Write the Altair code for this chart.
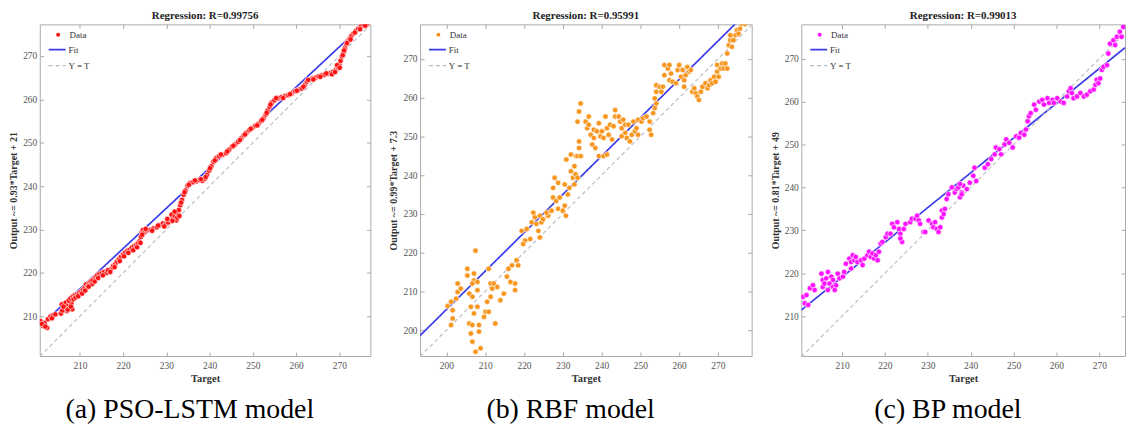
import altair as alt
import pandas as pd

FONT = "Liberation Serif"

# ---------------- Panel (a) PSO-LSTM ----------------
a_target = [200.9, 201.4, 201.8, 202.4, 202.6, 203.2, 203.8, 204.3, 205.6, 205.8, 206.4, 206.7, 207.0, 207.3,
            207.6, 208.0, 208.2, 207.4, 207.8, 208.3, 208.8, 209.3, 209.8, 210.3, 210.7, 211.1, 211.4, 211.8,
            212.2, 212.5, 212.8, 213.2, 213.6, 214.0, 214.5, 215.0, 215.6, 216.2, 216.8, 217.3, 217.7, 218.2,
            218.6, 219.0, 219.5, 220.0, 220.5, 221.0, 221.5, 222.0, 222.5, 223.0, 223.4, 223.8, 224.1, 224.3,
            224.6, 225.0, 225.5, 226.3, 227.0, 227.8, 228.5, 229.2, 229.8, 230.4, 230.9, 231.2, 231.6, 232.0,
            232.3, 232.7, 232.9, 233.2, 233.6, 234.0, 234.4, 234.9, 235.5, 236.2, 237.0, 237.6, 238.3, 238.9,
            239.4, 239.9, 240.4, 240.9, 241.5, 242.2, 243.0, 243.8, 244.5, 245.2, 245.9, 246.6, 247.3, 247.9,
            248.5, 249.2, 249.9, 250.6, 251.3, 251.9, 252.5, 253.0, 253.4, 253.9, 254.4, 255.0, 255.8, 256.6,
            257.4, 258.2, 259.0, 259.8, 260.6, 261.3, 262.0, 262.5, 263.1, 263.8, 264.5, 265.2, 265.9, 266.6,
            267.3, 268.0, 268.6, 269.2, 269.7, 270.0, 270.3, 270.6, 271.0, 271.3, 271.6, 272.0, 272.4, 272.8,
            273.3, 273.8, 274.4, 275.0, 275.7, 276.4,
            201.2, 202.0, 203.5, 205.9, 206.2, 207.2, 207.9, 208.5, 209.0, 209.6, 210.5, 211.2, 212.0, 212.9,
            213.4, 214.2, 215.3, 216.5, 217.0, 218.0, 219.2, 220.2, 221.2, 222.3, 223.2, 224.0, 224.4, 225.2,
            226.7, 228.1, 229.5, 230.2, 231.4, 231.9, 232.5, 233.0, 233.4, 234.2, 235.2, 236.6, 238.0, 239.1,
            240.1, 241.2, 242.6, 244.1, 245.5, 247.0, 248.2, 249.5, 251.0, 252.2, 253.2, 254.1, 255.4, 257.0,
            258.6, 260.2, 261.7, 262.8, 264.0, 265.6, 267.0, 268.3, 269.0, 269.5, 270.1, 270.8, 271.1, 271.8,
            272.6, 273.6, 274.8, 276.0]
a_output = [208.8, 207.8, 208.4, 207.3, 209.3, 209.9, 210.2, 210.4, 210.6, 212.7, 211.5, 213.1, 211.2, 212.4,
            211.8, 212.9, 211.6, 213.6, 214.1, 214.5, 214.8, 215.0, 215.3, 215.7, 216.1, 216.5, 217.3, 216.9,
            217.6, 218.0, 217.4, 218.5, 219.0, 219.4, 219.8, 219.9, 220.2, 220.0, 220.4, 220.9, 221.6, 222.0,
            222.6, 223.1, 223.7, 224.2, 224.7, 225.1, 225.3, 225.8, 226.1, 226.4, 226.8, 227.3, 228.3, 229.3,
            229.9, 229.4, 229.8, 229.9, 230.2, 230.5, 231.0, 231.4, 231.2, 231.6, 232.3, 233.4, 232.5, 233.0,
            232.1, 233.5, 234.5, 235.6, 236.8, 238.0, 239.0, 240.1, 240.7, 240.9, 241.1, 241.4, 241.2, 241.7,
            242.6, 243.6, 244.6, 245.6, 246.4, 246.9, 247.2, 247.6, 248.4, 249.1, 249.6, 250.2, 251.0, 251.7,
            252.3, 252.9, 253.4, 253.9, 254.4, 255.0, 255.7, 256.5, 257.4, 258.3, 259.3, 259.8, 260.2, 260.5,
            260.7, 261.0, 261.4, 261.9, 262.2, 262.5, 263.3, 264.1, 264.5, 264.8, 265.0, 265.3, 265.5, 265.7,
            265.9, 266.1, 266.4, 266.8, 267.3, 268.0, 268.9, 269.9, 270.8, 271.8, 272.7, 273.4, 274.0, 274.6,
            275.2, 275.8, 276.3, 276.8, 277.2, 277.4,
            208.2, 207.6, 209.5, 211.3, 212.2, 211.5, 212.2, 213.9, 214.3, 214.6, 215.2, 215.9, 216.8, 218.2,
            218.0, 218.8, 219.4, 220.6, 220.2, 221.3, 222.7, 223.8, 224.6, 225.2, 225.9, 226.9, 228.8, 230.1,
            229.7, 230.9, 230.7, 232.4, 232.0, 234.1, 232.7, 233.1, 236.2, 238.6, 240.3, 241.3, 241.6, 242.1,
            244.1, 245.9, 247.3, 248.0, 249.3, 250.6, 251.9, 253.2, 254.0, 255.3, 256.9, 258.8, 260.3, 260.3,
            261.2, 262.0, 262.9, 264.5, 264.6, 265.2, 266.0, 265.8, 266.3, 267.9, 267.3, 270.2, 271.3, 273.0,
            273.8, 275.4, 276.2, 277.0]

# ---------------- Panel (b) RBF ----------------
b_target = [200.3, 201.6, 201.2, 202.5, 202.9, 202.9, 203.7, 201.6, 201.2, 205.4, 205.4, 205.9, 206.7, 206.3,
            207.1, 205.9, 206.7, 206.3, 206.7, 207.5, 208.8, 208.4, 208.4, 207.5, 207.1, 207.1, 208.0, 206.7,
            208.0, 208.0, 209.7, 210.1, 210.9, 210.9, 211.4, 212.2, 211.8, 213.1, 211.4, 210.5, 212.6, 213.9,
            214.8, 215.6, 216.0, 216.9, 216.5, 217.7, 217.7, 218.1, 218.5, 219.4, 220.3, 219.8, 220.7, 221.6,
            222.0, 222.4, 222.8, 223.2, 223.7, 224.1, 224.5, 224.1, 224.9, 226.2, 225.8, 227.1, 227.5, 227.5,
            227.9, 228.8, 228.3, 229.2, 230.5, 230.5, 231.3, 231.7, 232.1, 233.0, 232.6, 233.0, 233.8, 232.1,
            233.4, 234.7, 230.9, 228.8, 230.0, 230.8,
            234.2, 234.6, 233.8, 234.2, 234.2, 233.8, 234.6, 233.3, 233.8, 235.9, 236.7, 236.3, 237.2, 238.0,
            237.6, 238.4, 236.7, 238.0, 238.8, 239.3, 239.7, 240.1, 241.0, 241.4, 240.5, 239.3, 240.5, 241.4,
            241.8, 242.2, 242.7, 243.1, 243.5, 243.5, 244.4, 244.8, 245.2, 245.6, 246.1, 245.2, 246.5, 246.1,
            246.9, 247.3, 247.8, 248.2, 248.6, 249.0, 249.4, 249.4, 250.3, 250.7, 251.6, 252.4, 252.4, 252.8,
            253.3, 253.7, 254.1, 253.7, 254.1, 254.1, 255.0, 255.4, 255.8, 256.2, 256.2, 257.1, 257.5, 257.9,
            257.5, 258.3, 259.2, 259.6, 260.0, 260.5, 260.9, 261.3, 261.7, 262.1, 262.6, 263.0, 261.3, 263.4,
            263.9, 264.3, 264.7, 265.1, 265.6, 266.0, 266.8, 267.3, 267.7, 268.1, 268.5, 269.0, 269.4, 269.8,
            269.8, 270.2, 270.7, 271.1, 271.5, 271.9, 272.4, 272.4, 272.8, 273.2, 273.6, 274.0, 274.5, 274.9,
            275.3, 275.7, 276.1, 277.0, 273.2]
b_output = [206.2, 205.1, 207.3, 208.1, 209.8, 212.0, 210.7, 203.0, 201.3, 215.8, 214.1, 209.4, 208.6, 206.0,
            204.3, 201.7, 201.3, 199.1, 197.0, 194.4, 195.3, 199.6, 201.3, 220.5, 214.6, 212.8, 212.4, 212.0,
            210.3, 206.0, 203.4, 204.7, 204.7, 215.8, 212.0, 212.0, 210.7, 211.1, 208.6, 207.3, 201.7, 207.7,
            209.4, 213.8, 215.8, 216.7, 212.4, 212.0, 210.3, 218.0, 216.7, 225.6, 223.1, 222.2, 226.1, 223.5,
            227.8, 230.3, 229.1, 227.4, 225.6, 223.9, 227.8, 229.5, 228.6, 229.5, 230.3, 230.8, 234.2, 236.7,
            239.3, 238.0, 233.3, 234.2, 237.6, 232.1, 235.0, 236.7, 241.0, 242.3, 239.3, 237.6, 239.3, 245.3,
            244.9, 244.9, 244.0, 231.3, 230.8, 229.5,
            256.4, 258.5, 253.8, 248.7, 247.0, 244.9, 244.9, 240.2, 239.3, 253.8, 255.1, 252.1, 250.4, 249.6,
            247.9, 247.0, 253.0, 251.7, 251.3, 253.4, 250.0, 251.3, 255.1, 252.1, 249.6, 244.9, 244.9, 245.3,
            250.4, 253.0, 249.2, 252.6, 256.8, 255.1, 255.1, 253.8, 252.1, 254.3, 250.9, 250.0, 249.6, 253.0,
            253.0, 248.7, 250.4, 253.8, 251.3, 252.1, 254.3, 250.4, 253.8, 254.7, 255.1, 253.8, 251.7, 250.4,
            256.0, 257.3, 258.5, 259.8, 261.5, 263.2, 262.8, 261.5, 262.8, 265.8, 268.4, 267.5, 268.4, 266.2,
            264.5, 264.1, 263.7, 267.1, 268.4, 265.4, 267.1, 264.5, 265.8, 267.9, 266.7, 267.1, 262.8, 261.5,
            262.4, 261.1, 260.3, 259.4, 261.5, 262.8, 263.7, 262.4, 263.2, 264.5, 263.7, 265.4, 264.1, 266.7,
            268.4, 265.4, 267.5, 268.8, 267.5, 268.8, 267.5, 271.4, 273.5, 274.8, 273.1, 274.8, 276.1, 277.4,
            276.5, 277.8, 279.0, 279.0, 276.1]

# ---------------- Panel (c) BP ----------------
c_target = [200.9, 201.7, 201.3, 202.1, 202.5, 203.2, 203.6, 205.2, 205.5, 205.5, 205.9, 206.3, 206.7, 206.7,
            207.1, 207.5, 207.9, 207.9, 208.3, 208.6, 209.0, 209.4, 210.2, 210.5, 210.9, 211.7, 212.1, 212.5,
            212.1, 212.9, 213.2, 213.6, 214.4, 215.2, 214.8, 215.9, 216.3, 216.7, 217.1, 217.5, 217.9, 218.3,
            218.6, 219.0, 219.4, 220.2, 220.6, 221.3, 221.7, 222.1, 222.9, 223.3, 223.6, 224.0, 223.6, 224.4,
            224.8, 225.9, 226.3, 227.1, 227.5, 227.9, 228.2, 229.0, 229.4, 230.2, 231.0, 231.3, 231.7, 232.1,
            232.5, 232.9, 233.3, 233.3, 233.7, 234.0, 234.4, 234.8, 235.6, 236.3, 236.7, 237.5, 237.9, 238.3,
            239.1, 239.8, 237.1, 237.5, 237.9, 240.6, 240.9, 241.3, 243.3, 244.0, 244.8, 245.6, 245.9, 246.7,
            247.1, 247.9, 248.3, 249.0, 249.8, 250.6, 251.3, 251.7, 252.5, 252.9, 253.3, 253.6, 254.0, 254.8,
            255.2, 256.0, 256.7, 257.1, 257.9, 258.3, 259.1, 259.4, 260.2, 261.0, 261.7, 262.5, 262.9, 263.3,
            263.6, 264.0, 264.8, 265.6, 266.4, 267.1, 267.9, 268.7, 269.1, 269.4, 269.8, 270.2, 270.6, 271.0,
            271.8, 272.1, 272.5, 273.3, 273.7, 274.1, 274.8, 275.2, 275.6]
c_output = [214.5, 214.9, 213.0, 212.6, 216.5, 217.2, 216.1, 219.9, 218.4, 216.8, 217.6, 218.8, 220.3, 216.1,
            217.6, 219.2, 218.4, 216.8, 216.1, 217.2, 219.9, 218.8, 219.2, 220.3, 222.2, 223.4, 222.6, 224.2,
            221.1, 223.0, 223.8, 222.6, 223.0, 223.4, 221.9, 224.2, 225.0, 223.8, 224.6, 223.4, 224.2, 223.0,
            225.0, 226.9, 227.3, 228.4, 229.2, 229.2, 231.5, 230.7, 231.9, 230.3, 229.2, 227.3, 228.1, 230.3,
            231.5, 231.9, 232.7, 232.7, 233.4, 232.3, 231.5, 229.6, 229.6, 232.3, 231.5, 230.7, 231.9, 230.3,
            229.6, 230.7, 233.0, 234.6, 233.8, 235.0, 237.3, 238.4, 240.0, 238.8, 239.6, 237.7, 238.8, 240.4,
            239.6, 241.1, 240.0, 240.8, 238.4, 242.7, 244.6, 241.5, 244.6, 245.4, 246.6, 247.7, 249.3, 248.9,
            247.7, 250.0, 251.2, 250.4, 249.3, 251.9, 251.6, 252.7, 252.3, 253.5, 255.4, 256.6, 257.3, 259.3,
            258.1, 260.0, 260.4, 259.3, 260.8, 259.7, 260.4, 259.7, 260.8, 260.0, 259.7, 261.2, 262.4, 263.1,
            262.0, 260.8, 261.2, 262.0, 261.2, 261.6, 262.4, 262.8, 263.9, 265.1, 264.3, 265.4, 267.4, 268.1,
            268.5, 271.2, 273.5, 274.3, 273.2, 275.1, 276.3, 275.1, 277.4]

GRID = "#a9a9a9"


def make_panel(tgt, out, color, xdom, ydom, xticks, yticks, slope, icpt,
               title, ylab, caption, w, h):
    df = pd.DataFrame({"Target": tgt, "Output": out, "s": "Data"})
    x0, x1 = xdom
    lines = pd.DataFrame({
        "Target": [x0, x1, x0, x1],
        "Output": [slope * x0 + icpt, slope * x1 + icpt, x0, x1],
        "s": ["Fit", "Fit", "Y = T", "Y = T"],
    })
    xs = alt.Scale(domain=list(xdom), nice=False, zero=False)
    ys = alt.Scale(domain=list(ydom), nice=False, zero=False)
    common = dict(offset=-4, tickSize=4, domain=False, grid=False,
                  tickColor=GRID, tickWidth=1)
    xaxis = alt.Axis(values=xticks, title="Target", labelPadding=5,
                     labelColor="#555555", labelFont=FONT, labelFontSize=9.5,
                     titleFont=FONT, titleFontSize=10.5, titleFontWeight="bold",
                     titleColor="#333333", titlePadding=3, **common)
    yaxis = alt.Axis(values=yticks, title=ylab, labelPadding=3,
                     labelColor="#555555", labelFont=FONT, labelFontSize=9.5,
                     titleFont=FONT, titleFontSize=10, titleFontWeight="bold",
                     titleColor="#333333", titlePadding=4, **common)
    xtop = alt.Axis(orient="top", values=xticks, labels=False, title=None, **common)
    yright = alt.Axis(orient="right", values=yticks, labels=False, title=None, **common)

    leg_common = dict(orient="none", title=None, labelFont=FONT, labelFontSize=9,
                      labelColor="#333333", padding=0)
    line_leg = dict(legendX=8, legendY=16, symbolType="stroke", symbolSize=290,
                    symbolStrokeWidth=1.6, labelOffset=2, rowPadding=1, **leg_common)
    ln = alt.Chart(lines).mark_line(clip=True).encode(
        x=alt.X("Target:Q", scale=xs, axis=xtop),
        y=alt.Y("Output:Q", scale=ys, axis=yright),
        color=alt.Color("s:N", scale=alt.Scale(domain=["Fit", "Y = T"],
                                               range=["#3b3be8", "#b8b8c0"]),
                        legend=alt.Legend(**line_leg)),
        strokeDash=alt.StrokeDash("s:N", scale=alt.Scale(domain=["Fit", "Y = T"],
                                                         range=[[1, 0], [4, 3]]),
                                  legend=alt.Legend(**line_leg)),
        strokeWidth=alt.StrokeWidth("s:N", scale=alt.Scale(domain=["Fit", "Y = T"],
                                                           range=[1.7, 1.1]), legend=None),
    )
    pts = alt.Chart(df).mark_point(filled=True, size=30, stroke="white", strokeWidth=0.6,
                                   opacity=1, clip=True).encode(
        x=alt.X("Target:Q", scale=xs, axis=xaxis),
        y=alt.Y("Output:Q", scale=ys, axis=yaxis),
        fill=alt.Fill("s:N", scale=alt.Scale(domain=["Data"], range=[color]),
                      legend=alt.Legend(legendX=14, legendY=6, symbolType="circle",
                                        symbolSize=30, labelOffset=7, **leg_common)),
    )
    layer = alt.layer(ln, pts).resolve_scale(
        x="shared", y="shared"
    ).resolve_axis(x="independent", y="independent").properties(
        width=w, height=h,
        title=alt.TitleParams(title, font=FONT, fontSize=11, fontWeight="bold",
                              color="#222222", offset=3, anchor="middle"),
    )
    return alt.vconcat(layer).properties(
        title=alt.TitleParams(caption, orient="bottom", anchor="middle", font=FONT,
                              fontSize=28, fontWeight="normal", color="black", offset=12)
    ).resolve_scale(color="independent", fill="independent", strokeDash="independent",
                    strokeWidth="independent", x="independent", y="independent")


pa = make_panel(a_target, a_output, "#ff1010", (200.7, 277.2), (200.8, 277.3),
                [210, 220, 230, 240, 250, 260, 270], [210, 220, 230, 240, 250, 260, 270],
                0.93, 21, "Regression: R=0.99756", "Output ~= 0.93*Target + 21",
                "(a) PSO-LSTM model", 333, 334)
pb = make_panel(b_target, b_output, "#f7961e", (193.2, 278.7), (193.3, 278.9),
                [200, 210, 220, 230, 240, 250, 260, 270], [200, 210, 220, 230, 240, 250, 260, 270],
                0.99, 7.3, "Regression: R=0.95991", "Output ~= 0.99*Target + 7.3",
                "(b) RBF model", 334, 334)
pc = make_panel(c_target, c_output, "#ff10ff", (200.5, 276.0), (200.7, 278.0),
                [210, 220, 230, 240, 250, 260, 270], [210, 220, 230, 240, 250, 260, 270],
                0.81, 49, "Regression: R=0.99013", "Output ~= 0.81*Target + 49",
                "(c) BP model", 326, 334)

chart = alt.hconcat(pa, pb, pc, spacing=17).resolve_scale(
    color="independent", fill="independent", strokeDash="independent",
    strokeWidth="independent", x="independent", y="independent"
).resolve_legend(color="independent", fill="independent", strokeDash="independent").properties(
    padding=0, background="white"
).configure_view(stroke=GRID, strokeWidth=1)

chart.save("out.html", embed_options={"renderer": "svg", "actions": False})
